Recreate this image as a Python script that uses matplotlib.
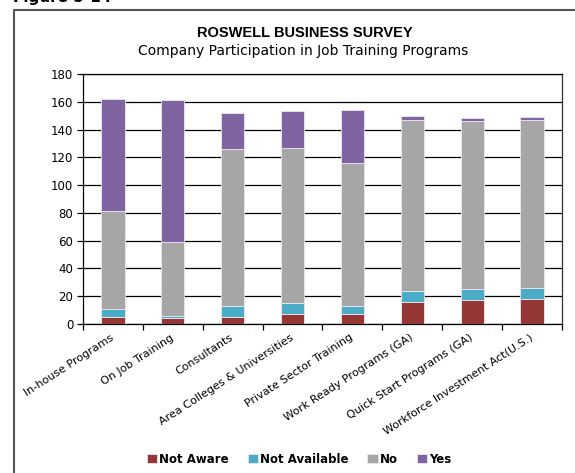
import numpy as np
import matplotlib
matplotlib.use('Agg')
import matplotlib.pyplot as plt
from matplotlib.lines import Line2D

# survey responses per program (companies)
programs = ['In-house Programs', 'On Job Training', 'Consultants',
            'Area Colleges & Universities', 'Private Sector Training',
            'Work Ready Programs (GA)', 'Quick Start Programs (GA)',
            'Workforce Investment Act(U.S.)']
not_aware = [5, 4, 5, 7, 7, 16, 17, 18]
not_available = [6, 2, 8, 8, 6, 8, 8, 8]
no_resp = [70, 53, 113, 112, 103, 123, 121, 121]
yes_resp = [81, 102, 26, 26, 38, 3, 2, 2]

series = [('Not Aware', not_aware, '#953735'),
          ('Not Available', not_available, '#4BACC6'),
          ('No', no_resp, '#A6A6A6'),
          ('Yes', yes_resp, '#8064A2')]

fig = plt.figure(figsize=(5.75, 4.73), dpi=100)
ax = fig.add_axes([0.1443, 0.315, 0.9774 - 0.1443, 0.8436 - 0.315])

x = np.arange(len(programs))
bottom = np.zeros(len(programs))
handles = []
for name, vals, col in series:
    b = ax.bar(x, vals, width=0.39, bottom=bottom, color=col,
               edgecolor='#ece6f0', linewidth=0.6, label=name, zorder=3)
    handles.append(b)
    bottom += np.array(vals)

ax.set_xlim(-0.5, len(programs) - 0.5)
ax.set_ylim(0, 180)
ax.set_yticks(range(0, 181, 20))
ax.yaxis.grid(True, color='black', linewidth=0.9, zorder=0)
ax.tick_params(axis='y', labelsize=8.5, length=4, width=0.9, direction='out', pad=3)

# category ticks sit between bars, labels at bar centres
ax.set_xticks(np.arange(len(programs) + 1) - 0.5)
ax.set_xticklabels([])
ax.tick_params(axis='x', length=4, width=0.9, direction='out')
for i, name in enumerate(programs):
    ax.text(i, -9, name, rotation=33, rotation_mode='anchor',
            ha='right', va='center', fontsize=8)

for s in ax.spines.values():
    s.set_linewidth(0.9)
    s.set_color('black')
ax.spines['right'].set_color('#333333')

fig.text(0.53, 1 - 33 / 473, 'ROSWELL BUSINESS SURVEY', ha='center', va='center',
         fontsize=10.5, fontweight='bold', family='Liberation Sans')
fig.text(0.527, 1 - 51 / 473, 'Company Participation in Job Training Programs',
         ha='center', va='center', fontsize=10)

fig.legend(handles=handles, loc='center', bbox_to_anchor=(0.52, 1 - 459 / 473),
           ncol=4, frameon=False, handlelength=0.9, handleheight=0.9,
           handletextpad=0.15, columnspacing=1.6,
           prop={'weight': 'bold', 'size': 8.5})

# outer frame (left and top edges) and the figure number above it
fig.add_artist(Line2D([14 / 575, 14 / 575, 1.0], [0.0, 1 - 10 / 473, 1 - 10 / 473],
                      transform=fig.transFigure, color='#555555', linewidth=1.5))
fig.text(13 / 575, 1 - 2 / 473, 'Figure 5-14', ha='left', va='baseline',
         fontsize=11, fontweight='bold')

fig.savefig('out.png', dpi=100)
